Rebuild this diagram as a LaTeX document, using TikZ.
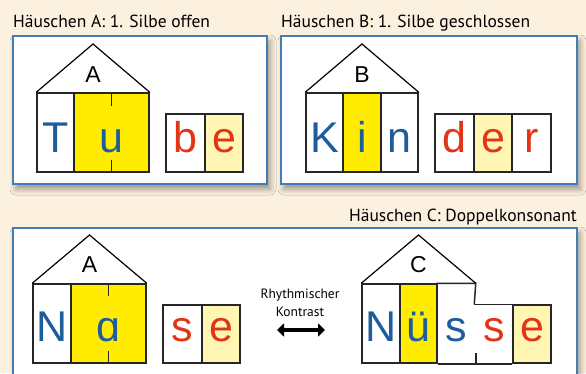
\documentclass[tikz,border=0pt]{standalone}
\usepackage{fontspec}
\setmainfont{PT Sans}
\newfontfamily\letterfont{Liberation Sans}
\usetikzlibrary{arrows.meta,shadows.blur}
\definecolor{creamBg}{RGB}{252,240,222}
\definecolor{panelBlue}{RGB}{66,125,185}
\definecolor{yellowS}{RGB}{255,236,0}
\definecolor{yellowL}{RGB}{255,246,180}
\definecolor{blueL}{RGB}{29,93,155}
\definecolor{redL}{RGB}{228,52,22}
\tikzset{
  panel/.style={rectangle, draw=panelBlue, line width=1.2pt, fill=white,
    blur shadow={shadow xshift=3pt, shadow yshift=-5pt, shadow blur radius=6pt,
      shadow opacity=40}},
  cell/.style={rectangle, draw=black!85, line width=1.5pt, inner sep=0pt, minimum height=79},
  boxcell/.style={cell, minimum height=58},
  cellline/.style={draw=black!85, line width=1.5pt},
  roof/.style={draw=black, line width=1.2pt, line join=miter},
  letter/.style={anchor=base, inner sep=0pt, font=\letterfont\fontsize{43}{43}\selectfont},
  houselabel/.style={inner sep=0pt, font=\letterfont\fontsize{23}{23}\selectfont},
  title/.style={inner sep=0pt, font=\fontsize{17.5}{20}\selectfont}
}
\begin{document}
\begin{tikzpicture}[x=1pt, y=-1pt]
\clip (0,0) rectangle (586,373);
\fill[creamBg] (0,0) rectangle (586,373);
%%%%%%%%%%%%%%%%%%%%%%%%%%%%%%% Haeuschen A
\node[panel, minimum width=254, minimum height=148](panelA) at(140,110){};
\node[title, anchor=base west](titleA) at(13,27){Häuschen A: 1. Silbe offen};
\node[cell, minimum width=37](cellT) at(55.5,132.5){};
\node[cell, fill=yellowS, minimum width=75](cellU) at(111.5,132.5){};
\draw[cellline] (cellU.north) -- ++(0,14);
\draw[cellline] (cellU.south) -- ++(0,-13);
\coordinate (roofA) at(93,44);
\draw[roof] (cellT.north west) -- (roofA) -- (cellU.north east);
\node[houselabel](labelA) at(93,75){A};
\node[letter, text=blueL](letT) at([yshift=20pt]cellT.south){T};
\node[letter, text=blueL](letU) at([yshift=20pt]cellU.south){u};
\node[boxcell, minimum width=39](cellB) at(185.5,143){};
\node[boxcell, fill=yellowL, minimum width=38](cellE) at(224,143){};
\node[letter, text=redL](letB) at([yshift=20pt]cellB.south){b};
\node[letter, text=redL](letE) at([yshift=20pt]cellE.south){e};

%%%%%%%%%%%%%%%%%%%%%%%%%%%%%%% Haeuschen B
\node[panel, minimum width=296, minimum height=148](panelB) at(429,110){};
\node[title, anchor=base west](titleB) at(281,27){Häuschen B: 1. Silbe geschlossen};
\node[cell, minimum width=37](cellK) at(324.5,132.5){};
\node[cell, fill=yellowS, minimum width=38](cellI) at(362,132.5){};
\node[cell, minimum width=37](cellN) at(399.5,132.5){};
\coordinate (roofB) at(362,44);
\draw[roof] (cellK.north west) -- (roofB) -- (cellN.north east);
\node[houselabel](labelB) at(362,75){B};
\node[letter, text=blueL](letK) at([yshift=20pt]cellK.south){K};
\node[letter, text=blueL](letI) at([yshift=20pt]cellI.south){i};
\node[letter, text=blueL](letN) at([yshift=20pt]cellN.south){n};
\node[boxcell, minimum width=39](cellD) at(454.5,143){};
\node[boxcell, fill=yellowL, minimum width=38](cellE2) at(493,143){};
\node[boxcell, minimum width=39](cellR) at(531.5,143){};
\node[letter, text=redL](letD) at([yshift=20pt]cellD.south){d};
\node[letter, text=redL](letE2) at([yshift=20pt]cellE2.south){e};
\node[letter, text=redL](letR) at([yshift=20pt]cellR.south){r};

%%%%%%%%%%%%%%%%%%%%%%%%%%%%%%% Haeuschen C
\node[panel, minimum width=564, minimum height=152](panelC) at(295,304){};
\node[title, anchor=base east](titleC) at(577,221){Häuschen C: Doppelkonsonant};
% Nase
\node[cell, minimum width=38](cellN3) at(52,323.5){};
\node[cell, fill=yellowS, minimum width=75](cellA) at(108.5,323.5){};
\draw[cellline] (cellA.north) -- ++(0,13);
\draw[cellline] (cellA.south) -- ++(0,-13);
\coordinate (roofC1) at(89.5,235);
\draw[roof] (cellN3.north west) -- (roofC1) -- (cellA.north east);
\node[houselabel](labelC1) at(89.5,265){A};
\node[letter, text=blueL](letN3) at([yshift=22pt]cellN3.south){N};
\node[letter, text=blueL](letA) at([yshift=22pt]cellA.south){ɑ};
\node[boxcell, minimum width=39](cellS) at(182.5,334){};
\node[boxcell, fill=yellowL, minimum width=38](cellE3) at(221,334){};
\node[letter, text=redL](letS) at([yshift=22pt]cellS.south){s};
\node[letter, text=redL](letE3) at([yshift=22pt]cellE3.south){e};
% Kontrast
\node[align=center, inner sep=0pt, font=\fontsize{13.5}{18}\selectfont](kontrast) at(300,303){Rhythmischer\\Kontrast};
\coordinate (arrowL) at(277,330);
\coordinate (arrowR) at(325,330);
\draw[line width=4.5pt, {Triangle[length=7pt,width=13pt]}-{Triangle[length=7pt,width=13pt]}] (arrowL) -- (arrowR);
% Nuesse
\node[cell, minimum width=38](cellN4) at(381,323.5){};
\node[cell, fill=yellowS, minimum width=37](cellUe) at(418.5,323.5){};
\node[cell, draw=none, minimum width=38](cellS2) at(456,323.5){};
\node[boxcell, draw=none, minimum width=38](cellS3) at(494,334){};
\node[boxcell, fill=yellowL, minimum width=38](cellE4) at(532,334){};
\draw[cellline] (cellS3.north west) -- (cellS2.north east) -- (cellS2.north west);
\draw[cellline] (cellS3.north west) -- (cellE4.north west);
\draw[cellline] (cellUe.south east) -- (cellE4.south west);
\draw[cellline] (cellS2.south east) -- ++(0,-11);
\coordinate (roofC2) at(418.5,235);
\draw[roof] (cellN4.north west) -- (roofC2) -- (cellS2.north east);
\node[houselabel](labelC2) at(418.5,265){C};
\node[letter, text=blueL](letN4) at([yshift=22pt]cellN4.south){N};
\node[letter, text=blueL](letUe) at([yshift=22pt]cellUe.south){ü};
\node[letter, text=blueL](letS2) at([yshift=22pt]cellS2.south){s};
\node[letter, text=redL](letS3) at([yshift=22pt]cellS3.south){s};
\node[letter, text=redL](letE4) at([yshift=22pt]cellE4.south){e};
\end{tikzpicture}
\end{document}
